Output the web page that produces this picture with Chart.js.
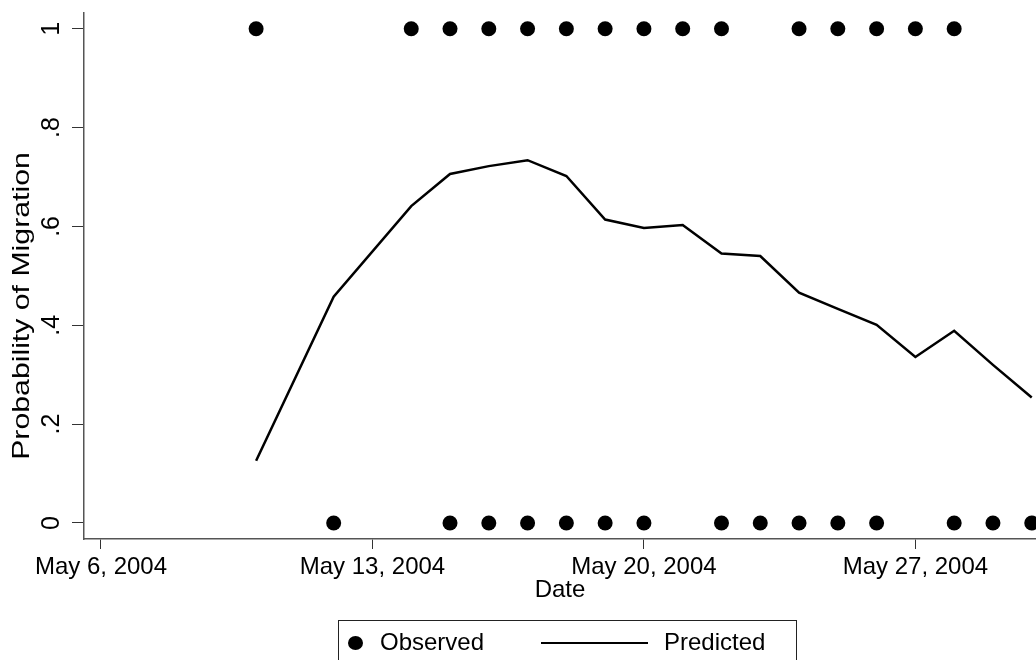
<!DOCTYPE html>
<html>
<head>
<meta charset="utf-8">
<title>Probability of Migration</title>
<script src="https://cdn.jsdelivr.net/npm/chart.js@4.4.1/dist/chart.umd.min.js"></script>
<style>
  html, body { margin: 0; padding: 0; background: #fff; overflow: hidden; }
  #wrap { position: relative; width: 1036px; height: 660px; overflow: hidden; background: #fff; }
  #chart { position: absolute; left: 0; top: 0; }
  .lg { position: absolute; font-family: "Liberation Sans", Arial, sans-serif; font-size: 24px; line-height: 24px; color: #000; white-space: nowrap; }
  #yTitle { left: -129px; top: 294px; width: 300px; text-align: center; transform: rotate(-90deg) scaleX(1.26); transform-origin: 50% 50%; }
  #lgBox { position: absolute; left: 338px; top: 620px; width: 457px; height: 60px; border: 1px solid #222; }
  #lgDot { position: absolute; left: 348px; top: 636px; width: 15px; height: 14px; border-radius: 50%; background: #000; }
  #lgLine { position: absolute; left: 541px; top: 642px; width: 107px; height: 2px; background: #000; }
</style>
</head>
<body>
<div id="wrap">
  <canvas id="chart" width="1036" height="660"></canvas>
  <div class="lg" id="yTitle">Probability of Migration</div>
  <div id="lgBox"></div>
  <div id="lgDot"></div>
  <div class="lg" style="left:380px; top:630px;">Observed</div>
  <div id="lgLine"></div>
  <div class="lg" style="left:664px; top:630px;">Predicted</div>
</div>
<script>
// days of May 2004
const obsOneDays = [10, 14, 15, 16, 17, 18, 19, 20, 21, 22, 24, 25, 26, 27, 28];
const obsZeroDays = [12, 15, 16, 17, 18, 19, 20, 22, 23, 24, 25, 26, 28, 29, 30];
const predDays = [10, 12, 14, 15, 16, 17, 18, 19, 20, 21, 22, 23, 24, 25, 26, 27, 28, 29, 30];
const predValues = [0.126, 0.458, 0.641, 0.706, 0.722, 0.734, 0.702, 0.614, 0.597, 0.603,
                    0.545, 0.540, 0.466, 0.433, 0.401, 0.336, 0.389, 0.320, 0.254];
const xTickDays = [6, 13, 20, 27];
const yTickValues = [0, 0.2, 0.4, 0.6, 0.8, 1];
const yTickLabels = ["0", ".2", ".4", ".6", ".8", "1"];

Chart.defaults.font.family = '"Liberation Sans", Arial, sans-serif';
Chart.defaults.color = "#000";

const observed = obsOneDays.map(d => ({ x: d, y: 1 }))
  .concat(obsZeroDays.map(d => ({ x: d, y: 0 })));
const predicted = predDays.map((d, i) => ({ x: d, y: predValues[i] }));

const ctx = document.getElementById("chart").getContext("2d");
new Chart(ctx, {
  type: "scatter",
  data: {
    datasets: [
      {
        label: "Observed",
        data: observed,
        pointRadius: 7.5,
        pointBackgroundColor: "#000",
        pointBorderWidth: 0,
        showLine: false,
        clip: false,
      },
      {
        label: "Predicted",
        data: predicted,
        showLine: true,
        borderColor: "#000",
        borderWidth: 2.5,
        pointRadius: 0,
        tension: 0,
      },
    ],
  },
  options: {
    responsive: false,
    animation: false,
    layout: { autoPadding: false, padding: { top: 13, right: 0, bottom: 55, left: 0 } },
    plugins: {
      legend: { display: false },
      tooltip: { enabled: false },
    },
    scales: {
      x: {
        type: "linear",
        min: 5.562,
        max: 30.11,
        afterBuildTicks: (s) => { s.ticks = xTickDays.map(v => ({ value: v })); },
        afterFit: (s) => { s.height = 66; s.paddingLeft = 0; s.paddingRight = 0; },
        ticks: {
          callback: (v) => "May " + v + ", 2004",
          font: { size: 24 },
          padding: 4,
          maxRotation: 0,
          autoSkip: false,
        },
        grid: { drawOnChartArea: false, tickLength: 10, color: "#333", lineWidth: 1 },
        border: { color: "#555", width: 1.5 },
        title: { display: true, text: "Date", font: { size: 24 }, padding: 0 },
      },
      y: {
        min: -0.0324,
        max: 1.0318,
        afterBuildTicks: (s) => { s.ticks = yTickValues.map(v => ({ value: v })); },
        afterFit: (s) => { s.width = 84; s.paddingTop = 0; s.paddingBottom = 0; },
        ticks: {
          callback: (v, i) => yTickLabels[i],
          minRotation: 90,
          maxRotation: 90,
          crossAlign: "center",
          padding: 9,
          font: { size: 25 },
        },
        grid: { drawOnChartArea: false, tickLength: 12, color: "#333", lineWidth: 1 },
        border: { color: "#555", width: 1.5 },
      },
    },
  },
});
</script>
</body>
</html>
